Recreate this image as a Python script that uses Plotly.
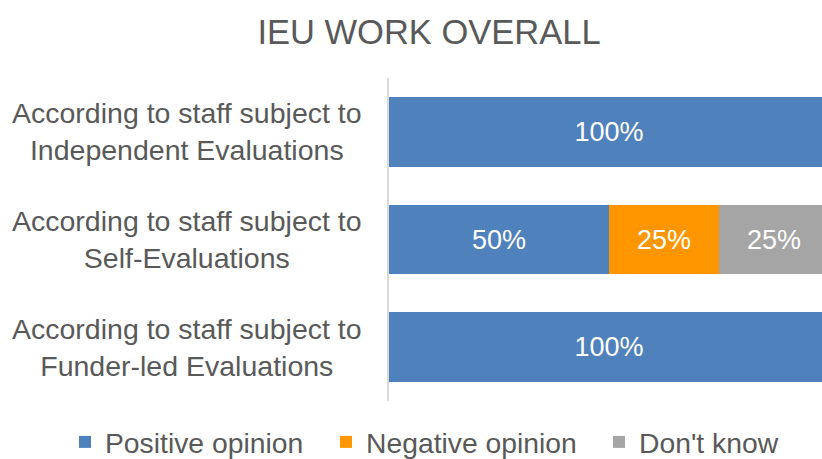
import plotly.graph_objects as go

categories = [
    "According to staff subject to<br>Independent Evaluations",
    "According to staff subject to<br>Self-Evaluations",
    "According to staff subject to<br>Funder-led Evaluations",
]
positive = [1.00, 0.50, 1.00]
negative = [0.00, 0.25, 0.00]
dont_know = [0.00, 0.25, 0.00]
series_names = ["Positive opinion", "Negative opinion", "Don't know"]
colors = ["#4F81BD", "#FF9600", "#A5A5A5"]
legend_ids = ["legend", "legend2", "legend3"]
legend_text_left = [110, 371, 644]

FONT = "Liberation Sans, Arial, sans-serif"
fig = go.Figure()
for name, vals, col, lg in zip(series_names, [positive, negative, dont_know], colors, legend_ids):
    fig.add_trace(go.Bar(
        y=categories, x=vals, name=name, orientation="h",
        marker=dict(color=col, line=dict(width=0)),
        text=[f"{v*100:.0f}%" if v > 0 else "" for v in vals],
        textposition="inside", insidetextanchor="middle",
        textfont=dict(family=FONT, size=27, color="white"),
        constraintext="none",
        hoverinfo="skip",
        legend=lg,
    ))

for c in categories:
    fig.add_annotation(
        x=-0.466, xref="paper", y=c, yref="y", text=c, showarrow=False,
        xanchor="center", yanchor="middle", align="center",
        font=dict(family=FONT, size=28.5, color="#595959"),
    )

legend_common = dict(orientation="h", xref="container", yref="container",
                     xanchor="left", y=1 - 442/459, yanchor="middle",
                     font=dict(family=FONT, size=28.3, color="#595959"),
                     itemclick=False, itemwidth=30, bgcolor="rgba(0,0,0,0)")

layout_legends = {}
for lg, tl in zip(legend_ids, legend_text_left):
    layout_legends[lg] = dict(legend_common, x=(tl - 45) / 822)

fig.update_layout(
    barmode="stack", bargap=0.35,
    width=822, height=459,
    margin=dict(l=389, r=0, t=78, b=58, autoexpand=False),
    paper_bgcolor="white", plot_bgcolor="white",
    title=dict(text="IEU WORK OVERALL", x=(429/822), xanchor="center",
               y=1 - 32/459, yanchor="middle",
               font=dict(family=FONT, size=34.5, color="#595959")),
    showlegend=True,
    **layout_legends,
)
fig.update_xaxes(range=[0, 0.984], showgrid=False, showticklabels=False, zeroline=False,
                 showline=False, fixedrange=True, automargin=False)
fig.update_yaxes(autorange="reversed", showticklabels=False, showgrid=False, automargin=False,
                 showline=True, linecolor="#D9D9D9", linewidth=1.5, zeroline=False)

fig.write_html("out.html", config={"displayModeBar": False},
               post_script="document.body.style.margin='0';")
